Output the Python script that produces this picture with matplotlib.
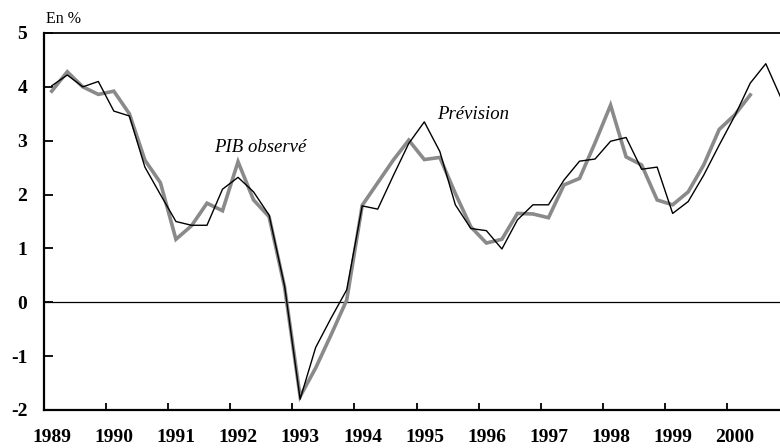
import numpy as np
import matplotlib
matplotlib.use('Agg')
import matplotlib.pyplot as plt

# trimestres 1989T1 .. 2000T4, placés au milieu de chaque trimestre
quarters = np.arange(1989, 2001, 0.25) + 0.125
years = list(range(1989, 2001))

# PIB observé (glissement annuel, en %)
pib_observe = [3.92, 4.28, 4.00, 3.86, 3.92, 3.50, 2.64, 2.22,
               1.17, 1.42, 1.84, 1.70, 2.61, 1.90, 1.59, 0.28,
               -1.75, -1.22, -0.60, 0.04, 1.80, 2.22, 2.64, 3.01,
               2.65, 2.69, 2.02, 1.40, 1.10, 1.17, 1.65, 1.64,
               1.57, 2.18, 2.30, 2.96, 3.66, 2.70, 2.55, 1.90,
               1.81, 2.05, 2.55, 3.21, 3.48, 3.85]

# Prévision
prevision = [4.02, 4.22, 4.00, 4.10, 3.55, 3.46, 2.51, 2.00,
             1.50, 1.43, 1.43, 2.10, 2.32, 2.05, 1.62, 0.30,
             -1.80, -0.84, -0.29, 0.23, 1.79, 1.73, 2.35, 2.95,
             3.35, 2.80, 1.81, 1.37, 1.33, 0.99, 1.53, 1.81,
             1.81, 2.27, 2.62, 2.66, 2.99, 3.06, 2.47, 2.51,
             1.65, 1.87, 2.36, 2.92, 3.46, 4.07, 4.43, 3.78]

serif = 'Liberation Serif'

fig = plt.figure(figsize=(7.8, 4.48), dpi=100)
ax = fig.add_axes([44 / 780, 1 - 410 / 448, 1 - 44 / 780, 377 / 448])

ax.plot(quarters[:len(pib_observe)], pib_observe, color='#8a8a8a', lw=2.6,
        solid_joinstyle='miter', zorder=2)
ax.plot(quarters[:len(prevision)], prevision, color='black', lw=1.0, zorder=3)
ax.axhline(0, color='black', lw=0.9, zorder=1)

ax.set_xlim(1989, 1989 + 736 / 62.09)
ax.set_ylim(-2, 5)

# axes
ax.spines['right'].set_visible(False)
ax.spines['left'].set_linewidth(1.6)
ax.spines['bottom'].set_linewidth(1.6)
ax.spines['top'].set_linewidth(1.3)

ax.set_yticks(range(-2, 6))
ax.set_yticklabels([str(v) for v in range(-2, 6)])
ax.tick_params(axis='y', direction='in', length=6.5, width=1.3, pad=12)

# ticks au début de chaque année, étiquettes décalées
ax.set_xticks(years)
ax.set_xticklabels([])
ax.set_xticks([y + 0.13 for y in years], minor=True)
ax.set_xticklabels([str(y) for y in years], minor=True)
ax.tick_params(axis='x', which='major', direction='in', length=5, width=1.3)
ax.tick_params(axis='x', which='minor', length=0, pad=14)

for lab in ax.get_yticklabels() + ax.get_xticklabels(minor=True):
    lab.set_fontfamily(serif)
    lab.set_fontweight('bold')
    lab.set_fontsize(14)

fig.text(46 / 780, 1 - 19 / 448, 'En %', family=serif, fontsize=11.5,
         ha='left', va='center')

ax.text(1992.48, 2.88, 'PIB observé', family=serif, style='italic',
        fontsize=13.5, ha='center', va='center')
ax.text(1995.91, 3.48, 'Prévision', family=serif, style='italic',
        fontsize=13.5, ha='center', va='center')

fig.savefig('out.png', dpi=100)
